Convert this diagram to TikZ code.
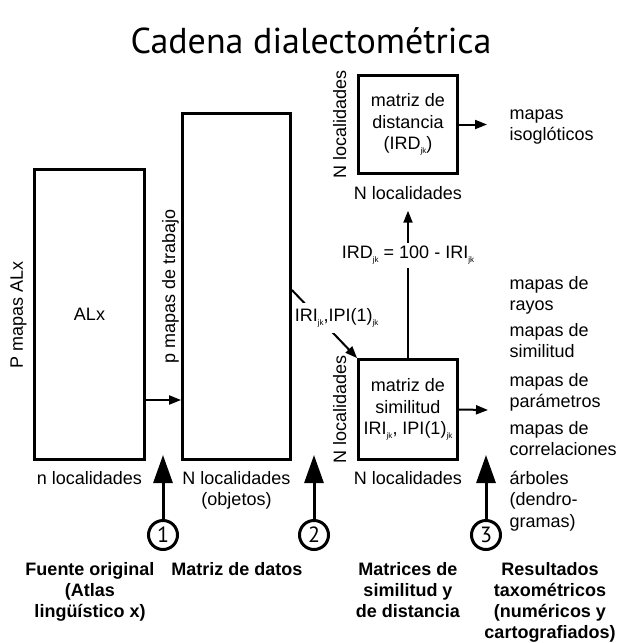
\documentclass[tikz,border=0pt]{standalone}
\usepackage{fontspec}
\setmainfont{Liberation Sans}
\newfontfamily\titlefont{PT Sans}
\usetikzlibrary{positioning,arrows.meta}

\newcommand{\lowidx}[1]{\raisebox{-4pt}{\fontsize{8}{8}\selectfont #1}}

\begin{document}
\begin{tikzpicture}[x=1pt, y=-1pt, >={Triangle[length=12pt,width=9pt]},
  every node/.style={font=\fontsize{18}{21.5}\selectfont},
  matbox/.style={draw, line width=2.8pt, inner sep=0pt, align=center},
  thin arrow/.style={->, line width=2pt},
  big arrow/.style={-{Triangle[length=28pt,width=19pt]}, line width=3pt},
  step circle/.style={draw, circle, line width=3pt, minimum size=29pt,
    inner sep=0pt, font=\titlefont\fontsize{22}{22}\selectfont},
  result/.style={anchor=base west, align=left},
  stage/.style={anchor=base, align=center,
    font=\bfseries\fontsize{18}{21}\selectfont}]

\useasboundingbox (0,0) rectangle (617,643);

\node [anchor=base, font=\titlefont\fontsize{36}{36}\selectfont] (title) at (311,53)
  {Cadena dialectométrica};

% matrices
\node [matbox, minimum width=110pt, minimum height=290pt] (atlas) at (89.5,314.5) {ALx};
\node [matbox, minimum width=108pt, minimum height=346pt] (datos) at (236.5,286.5) {};
\node [matbox, minimum width=99pt, minimum height=98pt] (dist) at (408,124.5)
  {matriz de\\distancia\\(IRD\lowidx{jk})};
\node [matbox, minimum width=99pt, minimum height=100pt] (simil) at (408,409.5)
  {matriz de\\similitud\\IRI\lowidx{jk}, IPI(1)\lowidx{jk}};

% side labels
\node [rotate=90, anchor=base] at (23,314.5) {P mapas ALx};
\node [rotate=90, anchor=base] at (175,286.5) {p mapas de trabajo};
\node [rotate=90, anchor=base] at (346,124.5) {N localidades};
\node [rotate=90, anchor=base] at (346,409.5) {N localidades};

% (base = last line)
\node [anchor=base] (atlasN) at (89.5,484) {n localidades};
\node [anchor=base, align=center] (datosN) at (236.5,505.5) {N localidades\\(objetos)};
\node [anchor=base] (similN) at (408,484) {N localidades};
\node [anchor=base] (distN) at (408,199) {N localidades};

% connectors
\draw [thin arrow] (atlas.east |- 0,400) -- (datos.west |- 0,400);

\draw [thin arrow] ([yshift=-3.5pt]datos.east) -- (simil.north west)
  node [pos=0.41, xshift=18pt, fill=white, inner xsep=2pt, inner ysep=6pt]
  {IRI\lowidx{jk},IPI(1)\lowidx{jk}};

\draw [thin arrow, shorten >=8pt] (simil.north) -- (distN.south)
  node [pos=0.66, fill=white] {IRD\lowidx{jk} = 100 - IRI\lowidx{jk}};

\coordinate (isoIn) at (487,124.5);
\coordinate (resIn) at (488,410);
\draw [thin arrow] (dist.east) -- (isoIn);
\draw [thin arrow] (simil.east) -- (resIn);

% results
\foreach \y/\t in {140.5/mapas\\isoglóticos, 310.5/mapas de\\rayos,
    357.5/mapas de\\similitud, 407.5/mapas de\\parámetros,
    455.5/mapas de\\correlaciones, 527/árboles\\(dendro-\\gramas)}
  \node [result] at (506,\y) {\t};

% steps
\foreach \n/\x in {1/163, 2/314, 3/486} {
  \node [step circle] (step-\n) at (\x,535) {\n};
  \coordinate (tip-\n) at (\x,455);
  \draw [big arrow] (step-\n) -- (tip-\n);
}

\node [stage] at (90,617) {Fuente original\\(Atlas\\lingüístico x)};
\node [stage] at (237,575) {Matriz de datos};
\node [stage] at (408,617) {Matrices de\\similitud y\\de distancia};
\node [stage] at (550,638) {Resultados\\taxométricos\\(numéricos y\\cartografiados)};

\end{tikzpicture}
\end{document}
